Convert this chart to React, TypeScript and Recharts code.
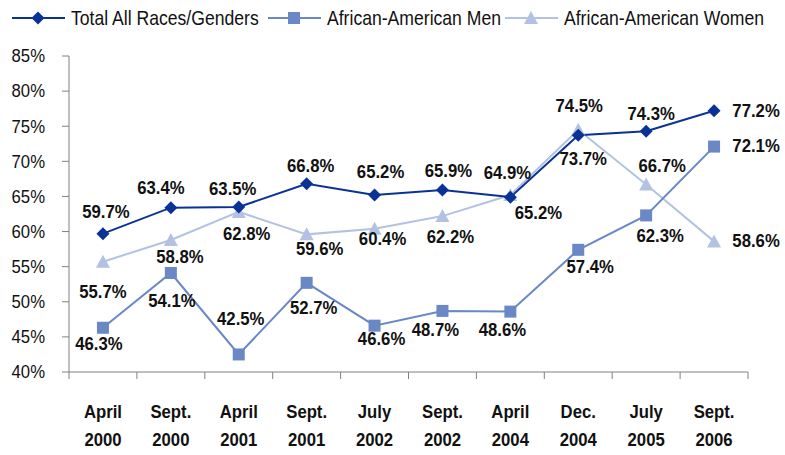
import React from 'react';
import { LineChart, Line, XAxis, YAxis, Legend, LabelList } from 'recharts';

const months = ['April', 'Sept.', 'April', 'Sept.', 'July', 'Sept.', 'April', 'Dec.', 'July', 'Sept.'];
const years = ['2000', '2000', '2001', '2001', '2002', '2002', '2004', '2004', '2005', '2006'];
const totalAll = [59.7, 63.4, 63.5, 66.8, 65.2, 65.9, 64.9, 73.7, 74.3, 77.2];
const aaMen = [46.3, 54.1, 42.5, 52.7, 46.6, 48.7, 48.6, 57.4, 62.3, 72.1];
const aaWomen = [55.7, 58.8, 62.8, 59.6, 60.4, 62.2, 65.2, 74.5, 66.7, 58.6];
const yTicks = [40, 45, 50, 55, 60, 65, 70, 75, 80, 85];

const data = months.map((m, i) => ({
  month: m,
  year: years[i],
  total: totalAll[i],
  men: aaMen[i],
  women: aaWomen[i],
}));

// label placement relative to each point (centre of text)
const totalOffsets = [[3, -22], [-10, -20], [-6, -18], [4, -18], [6, -23], [6, -19], [-3, -25], [5, 23], [5, -18], [42, 0]];
const menOffsets = [[-4, 16], [1, 28], [2, -36], [7, 25], [7, 13], [-7, 19], [-8, 18], [12, 17], [14, 20], [42, -1]];
const womenOffsets = [[0, 30], [9, 17], [8, 22], [13, 14], [8, 10], [8, 21], [28, 18], [1, -24], [16, -19], [42, -1]];

const FONT = "'Liberation Sans', Arial, sans-serif";
const SQUEEZE = 0.88;
const DARK = '#0a3296';
const MID = '#6a87c6';
const LIGHT = '#b3c2e2';
const AXIS = '#808080';
const INK = '#111';

const W = 785;
const H = 455;
const LEFT = 69;
const RIGHT = 37;
const HALF_BAND = (W - LEFT - RIGHT) / data.length / 2;

// condensed-looking text: regular font squeezed horizontally
const Narrow = ({ x, y, anchor = 'middle', bold = false, size = 19, children }: any) => (
  <text
    transform={`translate(${x},${y}) scale(${SQUEEZE},1)`}
    textAnchor={anchor}
    dominantBaseline="central"
    fontFamily={FONT}
    fontSize={size}
    fontWeight={bold ? 'bold' : 'normal'}
    fill={INK}
  >
    {children}
  </text>
);

const Diamond = ({ cx, cy, color }: any) => (
  <polygon points={`${cx},${cy - 6.5} ${cx + 6.5},${cy} ${cx},${cy + 6.5} ${cx - 6.5},${cy}`} fill={color} />
);
const Square = ({ cx, cy, color }: any) => (
  <rect x={cx - 6} y={cy - 6} width={12} height={12} fill={color} />
);
const Triangle = ({ cx, cy, color }: any) => (
  <polygon points={`${cx},${cy - 7} ${cx + 7},${cy + 6} ${cx - 7},${cy + 6}`} fill={color} />
);

const makeDot = (Shape: any, color: string) => (props: any) =>
  <Shape key={`d-${props.index}`} cx={props.cx} cy={props.cy} color={color} />;

const makeLabel = (offsets: number[][]) => (props: any) => {
  const { x, y, value, index } = props;
  const [dx, dy] = offsets[index];
  return (
    <Narrow x={x + dx} y={y + dy} bold>
      {`${Number(value).toFixed(1)}%`}
    </Narrow>
  );
};

const XTick = (props: any) => {
  const { x, y, index } = props;
  const last = index === data.length - 1;
  return (
    <g>
      <line x1={x - HALF_BAND} x2={x - HALF_BAND} y1={y - 8} y2={y - 1} stroke={AXIS} />
      {last && <line x1={x + HALF_BAND} x2={x + HALF_BAND} y1={y - 8} y2={y - 1} stroke={AXIS} />}
      <Narrow x={x} y={y + 32} bold>{months[index]}</Narrow>
      <Narrow x={x} y={y + 60} bold>{years[index]}</Narrow>
    </g>
  );
};

const YTick = (props: any) => {
  const { x, y, payload } = props;
  return (
    <Narrow x={x} y={y} anchor="end">{`${payload.value}%`}</Narrow>
  );
};

const legendItems = [
  { name: 'Total All Races/Genders', color: DARK, Shape: Diamond, x: 12 },
  { name: 'African-American Men', color: MID, Shape: Square, x: 268 },
  { name: 'African-American Women', color: LIGHT, Shape: Triangle, x: 505 },
];

const renderLegend = () => (
  <svg width={W} height={26} style={{ display: 'block' }}>
    {legendItems.map((it) => (
      <g key={it.name}>
        <line x1={it.x} x2={it.x + 53} y1={13} y2={13} stroke={it.color} strokeWidth={2} />
        <it.Shape cx={it.x + 26} cy={13} color={it.color} />
        <Narrow x={it.x + 59} y={13} anchor="start" size={20}>{it.name}</Narrow>
      </g>
    ))}
  </svg>
);

export default function App() {
  return (
    <div style={{ position: 'absolute', left: 0, top: 0, background: '#fff' }}>
      <LineChart width={W} height={H} data={data} margin={{ top: 30, right: RIGHT, bottom: 3, left: 0 }}>
        <Legend verticalAlign="top" align="left" content={renderLegend} wrapperStyle={{ top: 5, left: 0, width: W }} />
        <XAxis
          dataKey="month"
          height={80}
          stroke={AXIS}
          tickLine={false}
          interval={0}
          padding={{ left: HALF_BAND, right: HALF_BAND }}
          tick={<XTick />}
        />
        <YAxis
          width={LEFT}
          domain={[40, 85]}
          ticks={yTicks}
          stroke={AXIS}
          tickSize={7}
          tickMargin={17}
          tick={<YTick />}
        />
        <Line dataKey="women" stroke={LIGHT} strokeWidth={2} dot={makeDot(Triangle, LIGHT)} isAnimationActive={false}>
          <LabelList dataKey="women" content={makeLabel(womenOffsets)} />
        </Line>
        <Line dataKey="men" stroke={MID} strokeWidth={2} dot={makeDot(Square, MID)} isAnimationActive={false}>
          <LabelList dataKey="men" content={makeLabel(menOffsets)} />
        </Line>
        <Line dataKey="total" stroke={DARK} strokeWidth={2} dot={makeDot(Diamond, DARK)} isAnimationActive={false}>
          <LabelList dataKey="total" content={makeLabel(totalOffsets)} />
        </Line>
      </LineChart>
    </div>
  );
}
